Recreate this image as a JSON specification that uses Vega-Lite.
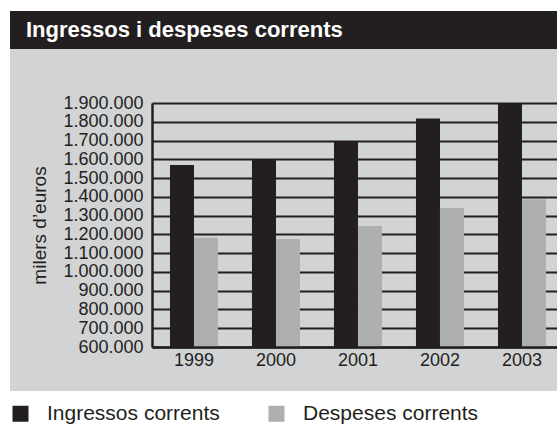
{
  "$schema": "https://vega.github.io/schema/vega-lite/v6.json",
  "background": "white",
  "padding": {"left": 10, "top": 11, "right": 0, "bottom": 0},
  "spacing": 0,
  "config": {
    "locale": {"number": {"decimal": ",", "thousands": ".", "grouping": [3], "currency": ["", " €"]}},
    "font": "Liberation Sans",
    "concat": {"spacing": 0}
  },
  "datasets": {
    "bars": [
      {"year": "1999", "series": "Ingressos corrents", "value": 1570000},
      {"year": "1999", "series": "Despeses corrents", "value": 1182000},
      {"year": "2000", "series": "Ingressos corrents", "value": 1597000},
      {"year": "2000", "series": "Despeses corrents", "value": 1175000},
      {"year": "2001", "series": "Ingressos corrents", "value": 1694000},
      {"year": "2001", "series": "Despeses corrents", "value": 1245000},
      {"year": "2002", "series": "Ingressos corrents", "value": 1818000},
      {"year": "2002", "series": "Despeses corrents", "value": 1341000},
      {"year": "2003", "series": "Ingressos corrents", "value": 1898000},
      {"year": "2003", "series": "Despeses corrents", "value": 1387000}
    ]
  },
  "vconcat": [
    {
      "width": 547,
      "height": 38,
      "view": {"fill": "#231f20", "stroke": null},
      "title": {
        "text": "Ingressos i despeses corrents",
        "anchor": "start",
        "orient": "top",
        "offset": -31,
        "dx": 16,
        "color": "white",
        "fontSize": 22,
        "fontWeight": "bold",
        "font": "Liberation Sans"
      },
      "data": {"values": []},
      "mark": "point"
    },
    {
      "width": 547,
      "height": 342,
      "view": {"fill": "#d1d3d4", "stroke": null},
      "data": {"name": "bars"},
      "mark": {"type": "bar"},
      "encoding": {
        "x": {
          "field": "year",
          "type": "nominal",
          "scale": {"range": [142, 547], "paddingInner": 0.4146, "paddingOuter": 0.1768, "align": 0.62},
          "axis": {
            "title": null,
            "orient": "bottom",
            "offset": -44,
            "labelAngle": 0,
            "ticks": false,
            "tickSize": 0,
            "labelPadding": 4,
            "labelFontSize": 18,
            "labelColor": "#231f20",
            "domainColor": "#231f20",
            "domainWidth": 2.5,
            "zindex": 1
          }
        },
        "xOffset": {
          "field": "series",
          "type": "nominal",
          "sort": ["Ingressos corrents", "Despeses corrents"],
          "scale": {"paddingInner": 0, "paddingOuter": 0}
        },
        "y": {
          "field": "value",
          "type": "quantitative",
          "scale": {"domain": [600000, 1900000], "range": [298, 54], "zero": false, "nice": false},
          "axis": {
            "title": "milers d’euros",
            "offset": -142,
            "values": [600000, 700000, 800000, 900000, 1000000, 1100000, 1200000, 1300000, 1400000, 1500000, 1600000, 1700000, 1800000, 1900000],
            "format": ",d",
            "ticks": false,
            "tickSize": 0,
            "labelPadding": 9,
            "labelFontSize": 18,
            "labelColor": "#231f20",
            "titleFontSize": 19,
            "titleFontWeight": "normal",
            "titleColor": "#231f20",
            "titlePadding": 13,
            "domainColor": "#231f20",
            "domainWidth": 2.5,
            "grid": true,
            "gridColor": "#231f20",
            "gridWidth": 2,
            "gridOpacity": 1
          }
        },
        "y2": {"datum": 600000},
        "color": {
          "field": "series",
          "type": "nominal",
          "scale": {"domain": ["Ingressos corrents", "Despeses corrents"], "range": ["#231f20", "#aeafb1"]},
          "legend": {
            "title": null,
            "orient": "bottom",
            "direction": "horizontal",
            "columns": 2,
            "offset": 12,
            "symbolType": "square",
            "symbolSize": 256,
            "symbolStrokeWidth": 0,
            "symbolOpacity": 1,
            "labelFontSize": 21,
            "labelLimit": 0,
            "labelColor": "#231f20",
            "labelOffset": 16,
            "columnPadding": 46,
            "padding": 0
          }
        }
      }
    }
  ]
}
